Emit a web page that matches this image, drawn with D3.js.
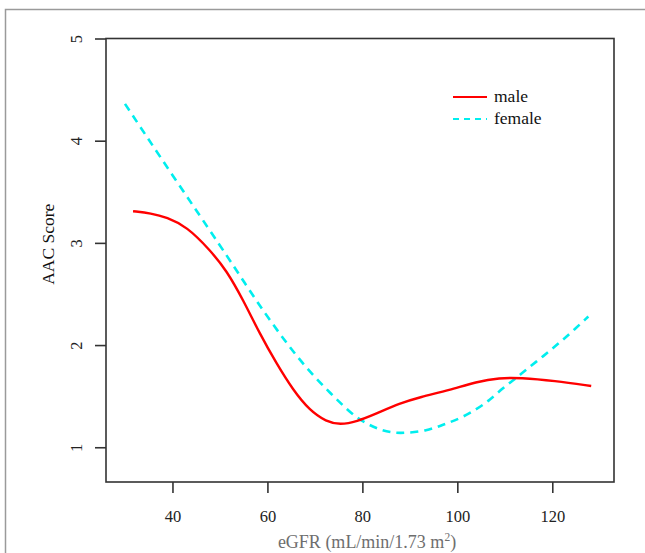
<!DOCTYPE html>
<html>
<head>
<meta charset="utf-8">
<script src="https://cdn.jsdelivr.net/npm/d3@7"></script>
<style>
  body { margin: 0; background: #fff; }
</style>
</head>
<body>
<div id="chart"></div>
<script>
// values
var maleX = [31.7, 35.5, 38.8, 43.0, 47.9, 51.4, 54.9, 58.4, 61.9, 65.4, 68.9, 72.4, 75.3, 78.8, 83.0, 87.9, 92.1, 98.4, 104.0, 108.9, 113.2, 120.5, 128.2];
var maleY = [3.31, 3.29, 3.25, 3.16, 2.93, 2.73, 2.44, 2.11, 1.82, 1.56, 1.36, 1.25, 1.22, 1.25, 1.33, 1.43, 1.49, 1.56, 1.64, 1.68, 1.68, 1.65, 1.60];

var femaleX = [30.0, 40.0, 50.7, 55.3, 59.5, 64.0, 68.3, 73.2, 78.1, 80.9, 83.7, 86.5, 89.3, 93.5, 97.0, 100.5, 104.0, 106.8, 109.6, 112.5, 115.3, 118.1, 120.9, 123.7, 127.6];
var femaleY = [4.36, 3.66, 2.93, 2.60, 2.31, 2.02, 1.77, 1.53, 1.31, 1.23, 1.17, 1.14, 1.14, 1.16, 1.22, 1.28, 1.37, 1.46, 1.58, 1.68, 1.79, 1.89, 2.00, 2.11, 2.28];

var xTicks = [40, 60, 80, 100, 120];
var yTicks = [1, 2, 3, 4, 5];
var seriesNames = ["male", "female"];
var seriesColors = ["#ff0000", "#00eeee"];

var serif = "'Liberation Serif', 'Times New Roman', serif";
var width = 645, height = 553;
var margin = {top: 38.5, right: 31, bottom: 71, left: 106};

var svg = d3.select("#chart").append("svg")
  .attr("width", width)
  .attr("height", height)
  .style("font-family", serif);

// outer frame (top and left edges visible in the picture)
svg.append("path")
  .attr("d", "M5.5,553 L5.5,9.5 L645,9.5")
  .attr("fill", "none")
  .attr("stroke", "#9a9a9a")
  .attr("stroke-width", 1.5);

var x = d3.scaleLinear().domain([26, 133]).range([margin.left, width - margin.right]);
var y = d3.scaleLinear().domain([0.66, 5]).range([height - margin.bottom, margin.top]);

// plot box
svg.append("rect")
  .attr("x", x.range()[0])
  .attr("y", y.range()[1])
  .attr("width", x.range()[1] - x.range()[0])
  .attr("height", y.range()[0] - y.range()[1])
  .attr("fill", "none")
  .attr("stroke", "#333")
  .attr("stroke-width", 1.6);

// x axis
var xAxis = svg.append("g")
  .attr("transform", "translate(0," + y.range()[0] + ")")
  .call(d3.axisBottom(x).tickValues(xTicks).tickSize(11).tickPadding(17));
xAxis.attr("font-family", null).attr("font-size", null);
xAxis.select(".domain").remove();
xAxis.selectAll(".tick line").attr("stroke", "#333").attr("stroke-width", 1.6);
xAxis.selectAll(".tick text")
  .style("font-family", serif).style("font-size", "16.5px").attr("fill", "#222");

// y axis with rotated labels
var yAxis = svg.append("g")
  .attr("transform", "translate(" + x.range()[0] + ",0)")
  .call(d3.axisLeft(y).tickValues(yTicks).tickSize(11).tickFormat(d3.format("d")));
yAxis.attr("font-family", null).attr("font-size", null);
yAxis.select(".domain").remove();
yAxis.selectAll(".tick line").attr("stroke", "#333").attr("stroke-width", 1.6);
yAxis.selectAll(".tick text")
  .style("font-family", serif).style("font-size", "16.5px").attr("fill", "#222")
  .attr("x", null)
  .attr("text-anchor", "middle")
  .attr("transform", "translate(-30,0) rotate(-90)")
  .attr("y", 0)
  .attr("dy", "0.35em");

// axis titles
var xt = svg.append("text")
  .attr("x", 367)
  .attr("y", 548)
  .attr("text-anchor", "middle")
  .style("font-size", "18px")
  .attr("fill", "#6e6e6e");
xt.append("tspan").text("eGFR (mL/min/1.73 m");
xt.append("tspan").style("font-size", "11.5px").attr("dy", -7).text("2");
xt.append("tspan").attr("dy", 7).text(")");

svg.append("text")
  .attr("transform", "translate(54," + ((y.range()[0] + y.range()[1]) / 2 - 16) + ") rotate(-90)")
  .attr("text-anchor", "middle")
  .style("font-size", "17.5px")
  .attr("fill", "#111")
  .text("AAC Score");

// curves
var line = d3.line()
  .x(function(d) { return x(d[0]); })
  .y(function(d) { return y(d[1]); })
  .curve(d3.curveBasis);

var maleData = maleX.map(function(v, i) { return [v, maleY[i]]; });
var femaleData = femaleX.map(function(v, i) { return [v, femaleY[i]]; });

svg.append("path")
  .datum(femaleData)
  .attr("d", line)
  .attr("fill", "none")
  .attr("stroke", seriesColors[1])
  .attr("stroke-width", 2.6)
  .attr("stroke-dasharray", "8,6");

svg.append("path")
  .datum(maleData)
  .attr("d", line)
  .attr("fill", "none")
  .attr("stroke", seriesColors[0])
  .attr("stroke-width", 2.4);

// legend
var legend = svg.append("g").attr("transform", "translate(453,97)");
seriesNames.forEach(function(name, i) {
  legend.append("line")
    .attr("x1", 0).attr("x2", 34)
    .attr("y1", i * 22).attr("y2", i * 22)
    .attr("stroke", seriesColors[i])
    .attr("stroke-width", i === 0 ? 1.8 : 2.2)
    .attr("stroke-dasharray", i === 0 ? null : "6,5");
  legend.append("text")
    .attr("x", 41)
    .attr("y", i * 22 + 5)
    .style("font-size", "17.5px")
    .attr("fill", "#111")
    .text(name);
});
</script>
</body>
</html>
